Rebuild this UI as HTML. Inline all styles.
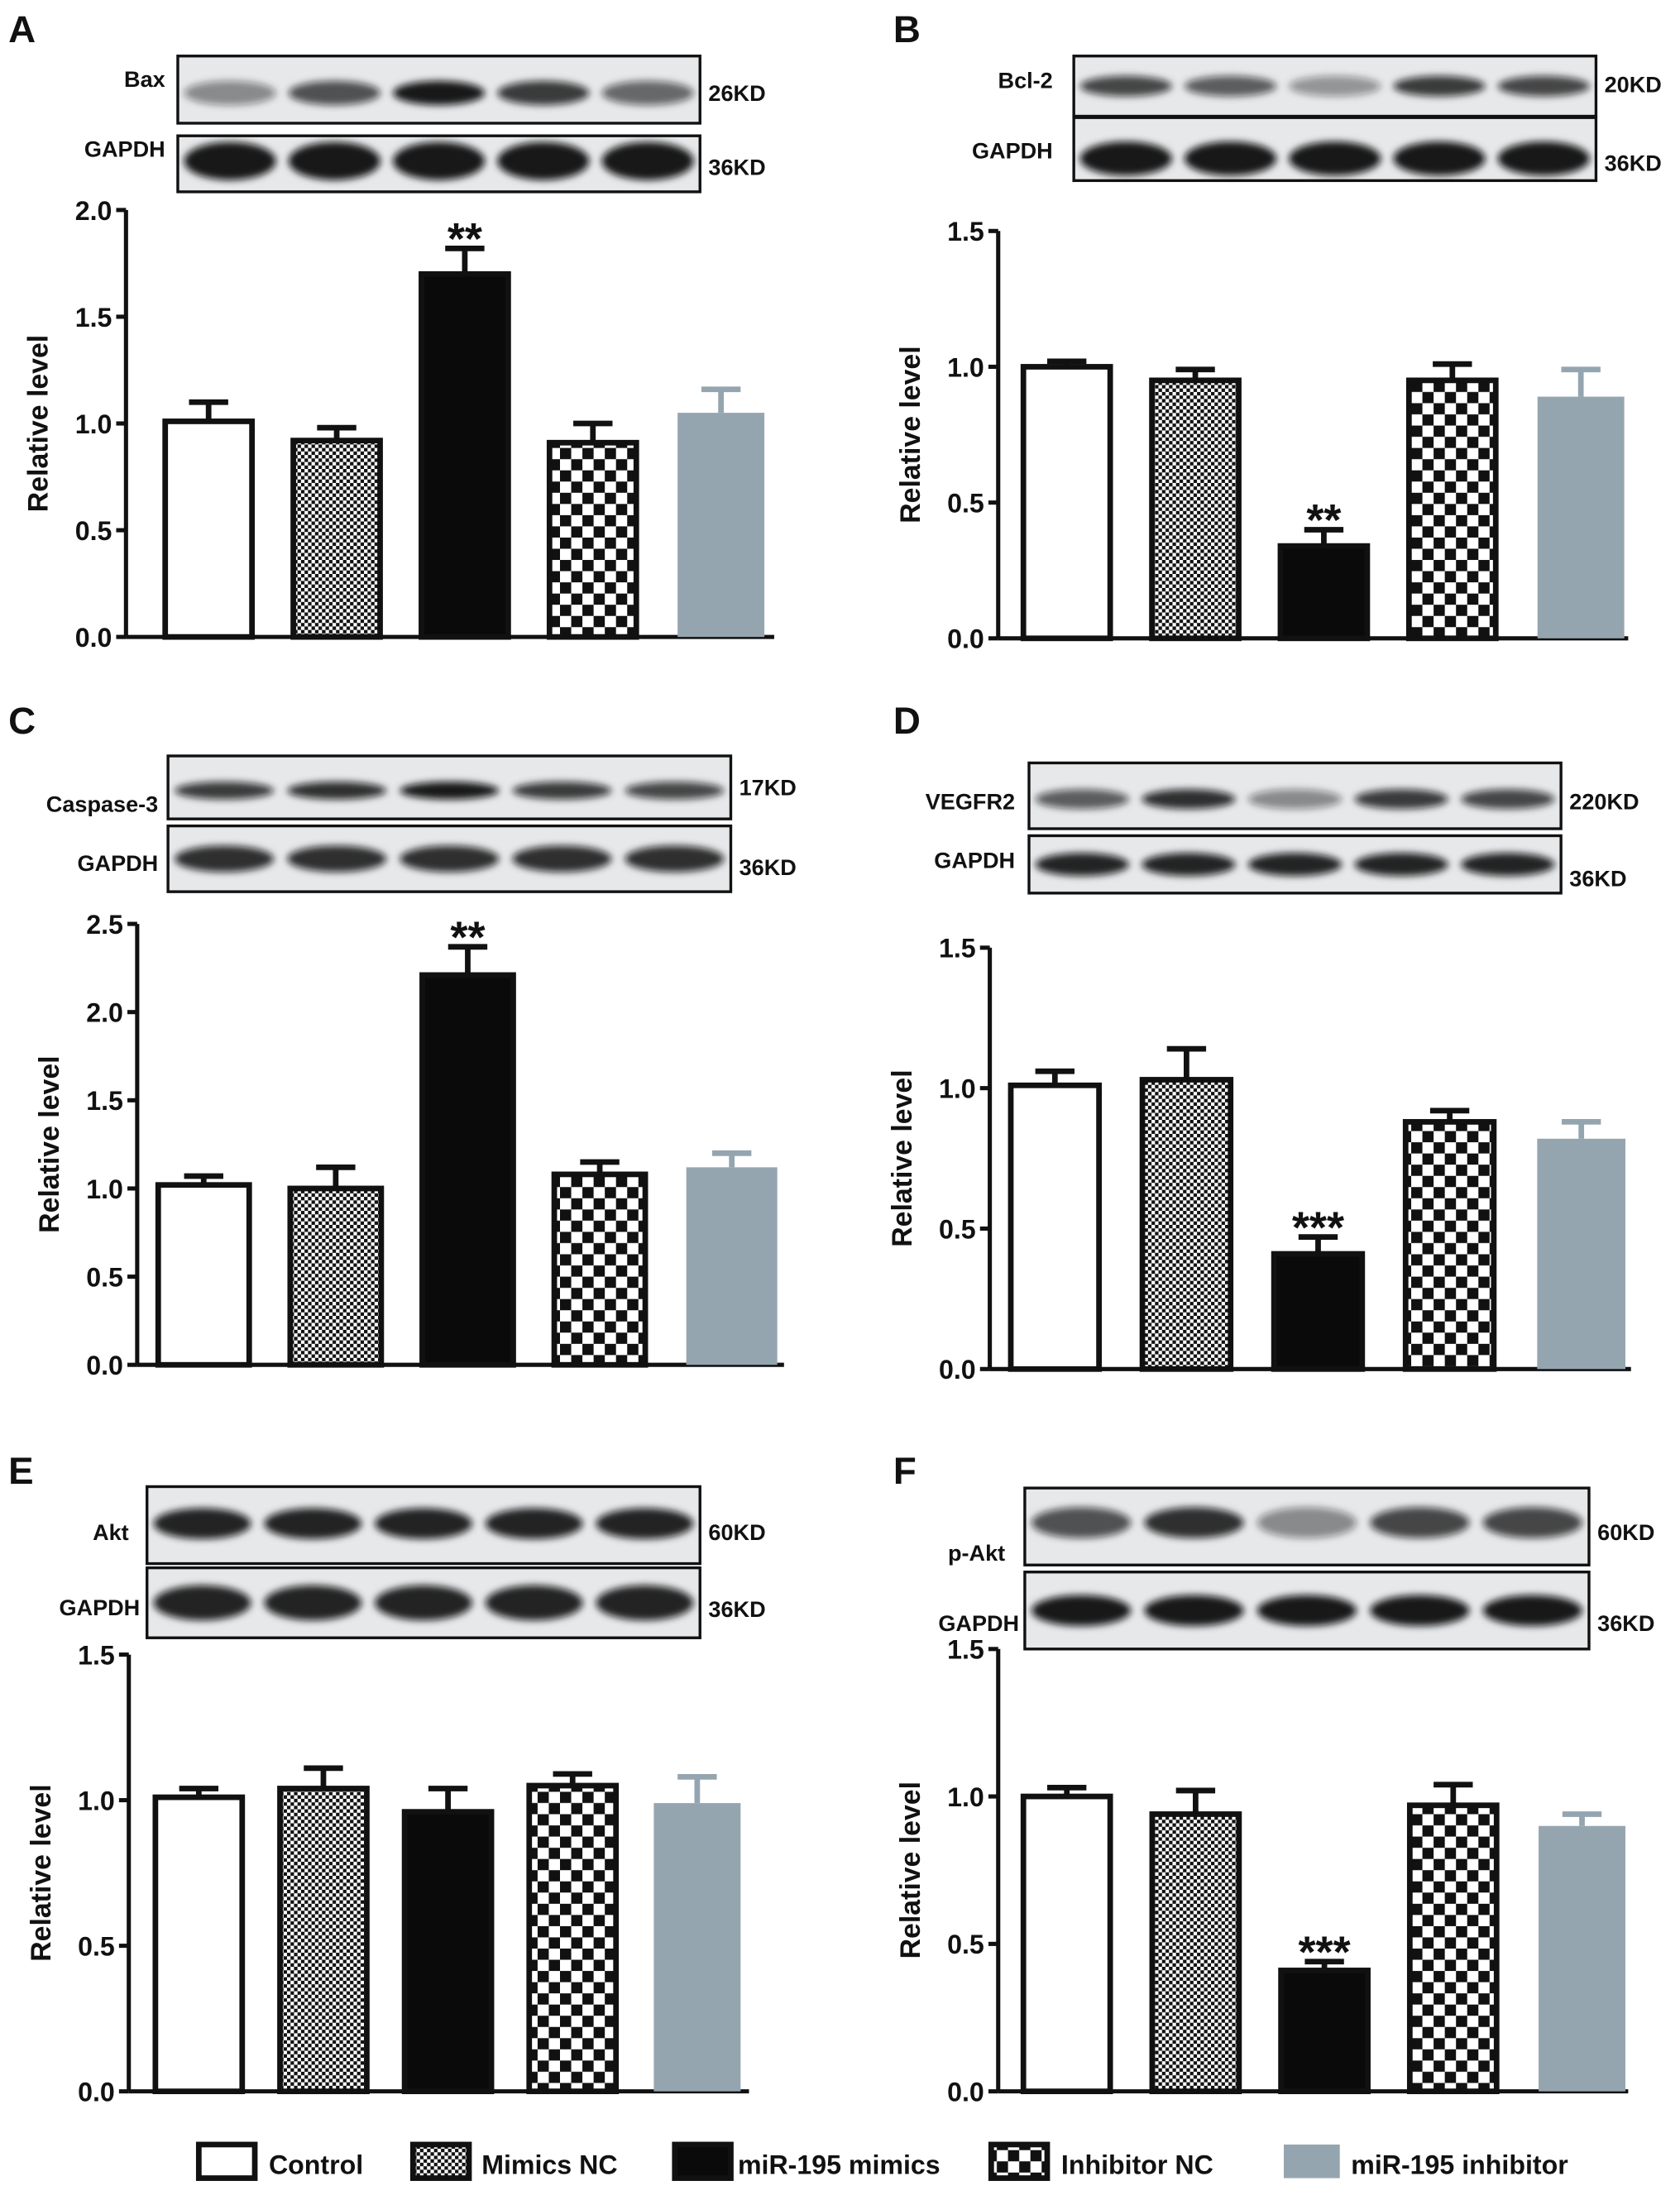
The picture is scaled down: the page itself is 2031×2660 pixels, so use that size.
<!DOCTYPE html>
<html><head><meta charset="utf-8"><style>
html,body{margin:0;padding:0;background:#fff;}
svg{display:block;font-family:"Liberation Sans",sans-serif;font-weight:bold;}
</style></head><body>
<svg id="fig" xmlns="http://www.w3.org/2000/svg" width="2031" height="2660" viewBox="0 0 1200 1571.6">
<defs>
<pattern id="pSmall" width="5" height="5" patternUnits="userSpaceOnUse"><rect width="5" height="5" fill="#fff"/><rect width="2.5" height="2.5" fill="#111"/><rect x="2.5" y="2.5" width="2.5" height="2.5" fill="#111"/></pattern>
<pattern id="pBig" width="16" height="16" patternUnits="userSpaceOnUse"><rect width="16" height="16" fill="#fff"/><rect width="8" height="8" fill="#111"/><rect x="8" y="8" width="8" height="8" fill="#111"/></pattern>
<filter id="blur" x="-20%" y="-50%" width="140%" height="200%"><feGaussianBlur stdDeviation="2.5"/></filter>
</defs>
</svg>
<script>
// ---- data ----
const groups = ["Control","Mimics NC","miR-195 mimics","Inhibitor NC","miR-195 inhibitor"];
const valsA = [1.01,0.92,1.70,0.91,1.05];
const errA  = [0.09,0.06,0.12,0.09,0.11];
const valsB = [1.00,0.95,0.34,0.95,0.89];
const errB  = [0.02,0.04,0.06,0.06,0.10];
const valsC = [1.02,1.00,2.21,1.08,1.12];
const errC  = [0.05,0.12,0.16,0.07,0.08];
const valsD = [1.01,1.03,0.41,0.88,0.82];
const errD  = [0.05,0.11,0.06,0.04,0.06];
const valsE = [1.01,1.04,0.96,1.05,0.99];
const errE  = [0.03,0.07,0.08,0.04,0.09];
const valsF = [1.00,0.94,0.41,0.97,0.90];
const errF  = [0.03,0.08,0.03,0.07,0.04];
const ticks20 = ["0.0","0.5","1.0","1.5","2.0"];
const ticks25 = ["0.0","0.5","1.0","1.5","2.0","2.5"];
const ticks15 = ["0.0","0.5","1.0","1.5"];
const sigA = ["","","**","",""];
const sigB = ["","","**","",""];
const sigC = ["","","**","",""];
const sigD = ["","","***","",""];
const sigE = ["","","","",""];
const sigF = ["","","***","",""];

const NS="http://www.w3.org/2000/svg";
const svg=document.getElementById('fig');
const fills=["#fff","url(#pSmall)","#0a0a0a","url(#pBig)","#95a5b0"];
function mk(tag,attrs,parent){const e=document.createElementNS(NS,tag);for(const k in attrs)e.setAttribute(k,attrs[k]);(parent||svg).appendChild(e);return e;}
function txt(s,x,y,size,parent,anchor){const t=mk('text',{x:x,y:y,'font-size':size,'text-anchor':anchor||'start',fill:'#111'},parent);t.textContent=s;return t;}

function panel(cfg){
  const g=mk('g',{});
  
  
  const lab=txt(cfg.id,cfg.lx,cfg.ly,27,g);
  
  
  cfg.blots.forEach((b,bi)=>{
    const bg=mk('g',{},g);
    
    
    mk('rect',{x:b.x,y:b.y,width:b.w,height:b.h,fill:'#e6e8ea',stroke:'#111','stroke-width':2},bg);
    const lw=b.w/5;
    b.dark.forEach((d,i)=>{
      mk('ellipse',{cx:b.x+lw*(i+0.5),cy:b.y+b.h*b.by,rx:lw*0.44,ry:b.h*b.bh,fill:'#111','fill-opacity':d,filter:'url(#blur)'},bg);
    });
    const l=txt(b.name,b.nx,b.ny,16,g,'end');
    
    
    const k=txt(b.kd,b.x+b.w+6,b.ky,16,g);
    
    
  });
  const yScale=v=>cfg.y0-(v/cfg.ymax)*(cfg.y0-cfg.ytop);
  const ax=mk('g',{},g);
  
  
  mk('line',{x1:cfg.ax,y1:cfg.ytop,x2:cfg.ax,y2:cfg.y0,stroke:'#111','stroke-width':3},ax);
  cfg.ticks.forEach(t=>{
    const y=yScale(parseFloat(t));
    mk('line',{x1:cfg.ax-7,y1:y,x2:cfg.ax,y2:y,stroke:'#111','stroke-width':3},ax);
    const tl=txt(t,cfg.ax-10,y+7,19,ax,'end');
    
    
  });
  const xa=mk('line',{x1:cfg.ax,y1:cfg.y0,x2:cfg.xend,y2:cfg.y0,stroke:'#111','stroke-width':3},g);
  
  
  const yt=txt('Relative level',0,0,20,g,'middle');
  yt.setAttribute('transform','translate('+(cfg.ax-56)+','+((cfg.y0+cfg.ytop)/2)+') rotate(-90)');
  
  
  cfg.vals.forEach((v,i)=>{
    const x=cfg.bx0+i*cfg.step, w=cfg.bw, y=yScale(v), cx=x+w/2;
    const col=i==4?'#95a5b0':'#111';
    const eg=mk('line',{x1:cx,y1:y,x2:cx,y2:yScale(v+cfg.err[i]),stroke:col,'stroke-width':4},g);
    
    
    const cap=mk('line',{x1:cx-14,y1:yScale(v+cfg.err[i]),x2:cx+14,y2:yScale(v+cfg.err[i]),stroke:col,'stroke-width':4},g);
    
    
    const r=mk('rect',{x:x,y:y,width:w,height:cfg.y0-y,fill:fills[i],stroke:i==4?'none':'#111','stroke-width':i==4?0:4},g);
    
    
    if(cfg.sig[i]){
      const s=txt(cfg.sig[i],cx,yScale(v+cfg.err[i])+4,32,g,'middle');
      
      
    }
  });
}

panel({id:'A',lx:6,ly:30,ax:90,ytop:150,y0:455,ymax:2.0,xend:553,ticks:ticks20,bx0:118,bw:62,step:91.5,vals:valsA,err:errA,sig:sigA,
 blots:[{x:127,y:40,w:373,h:48,by:0.55,bh:0.18,dark:[0.45,0.7,0.95,0.8,0.6],name:'Bax',nx:118,ny:62,kd:'26KD',ky:72},
        {x:127,y:97,w:373,h:40,by:0.45,bh:0.34,dark:[0.95,0.95,0.95,0.95,0.95],name:'GAPDH',nx:118,ny:112,kd:'36KD',ky:125}]});
panel({id:'B',lx:638,ly:30,ax:713,ytop:165,y0:456,ymax:1.5,xend:1163,ticks:ticks15,bx0:731,bw:62,step:91.8,vals:valsB,err:errB,sig:sigB,
 blots:[{x:767,y:40,w:373,h:43,by:0.5,bh:0.17,dark:[0.75,0.65,0.4,0.8,0.75],name:'Bcl-2',nx:752,ny:63,kd:'20KD',ky:66},
        {x:767,y:84,w:373,h:45,by:0.65,bh:0.27,dark:[0.95,0.95,0.95,0.95,0.95],name:'GAPDH',nx:752,ny:113,kd:'36KD',ky:122}]});
panel({id:'C',lx:6,ly:524,ax:98,ytop:660,y0:975,ymax:2.5,xend:560,ticks:ticks25,bx0:113,bw:65,step:94.3,vals:valsC,err:errC,sig:sigC,
 blots:[{x:120,y:540,w:402,h:45,by:0.55,bh:0.14,dark:[0.8,0.85,0.95,0.8,0.75],name:'Caspase-3',nx:113,ny:580,kd:'17KD',ky:568},
        {x:120,y:590,w:402,h:47,by:0.5,bh:0.2,dark:[0.85,0.85,0.85,0.85,0.85],name:'GAPDH',nx:113,ny:622,kd:'36KD',ky:625}]});
panel({id:'D',lx:638,ly:524,ax:707,ytop:677,y0:978,ymax:1.5,xend:1165,ticks:ticks15,bx0:722,bw:63,step:94,vals:valsD,err:errD,sig:sigD,
 blots:[{x:735,y:545,w:380,h:47,by:0.55,bh:0.15,dark:[0.65,0.85,0.45,0.8,0.75],name:'VEGFR2',nx:725,ny:578,kd:'220KD',ky:578},
        {x:735,y:597,w:380,h:41,by:0.5,bh:0.2,dark:[0.9,0.9,0.9,0.9,0.9],name:'GAPDH',nx:725,ny:620,kd:'36KD',ky:633}]});
panel({id:'E',lx:6,ly:1060,ax:92,ytop:1182,y0:1494,ymax:1.5,xend:535,ticks:ticks15,bx0:111,bw:62,step:89,vals:valsE,err:errE,sig:sigE,
 blots:[{x:105,y:1062,w:395,h:55,by:0.48,bh:0.2,dark:[0.9,0.9,0.9,0.9,0.9],name:'Akt',nx:92,ny:1100,kd:'60KD',ky:1100},
        {x:105,y:1120,w:395,h:50,by:0.5,bh:0.25,dark:[0.9,0.9,0.9,0.9,0.9],name:'GAPDH',nx:100,ny:1154,kd:'36KD',ky:1155}]});
panel({id:'F',lx:638,ly:1060,ax:713,ytop:1178,y0:1494,ymax:1.5,xend:1163,ticks:ticks15,bx0:731,bw:62,step:92,vals:valsF,err:errF,sig:sigF,
 blots:[{x:732,y:1063,w:403,h:55,by:0.45,bh:0.2,dark:[0.7,0.85,0.45,0.75,0.75],name:'p-Akt',nx:718,ny:1115,kd:'60KD',ky:1100},
        {x:732,y:1123,w:403,h:55,by:0.5,bh:0.2,dark:[0.95,0.95,0.95,0.95,0.95],name:'GAPDH',nx:728,ny:1165,kd:'36KD',ky:1165}]});

const leg=mk('g',{});


const legBoxX=[140,293,480,706,915];
const legTextX=[192,344,527,758,965];
groups.forEach((gname,i)=>{
  const e=mk('g',{},leg);
  
  
  mk('rect',{x:legBoxX[i]+2,y:1532,width:40,height:24,fill:fills[i],stroke:i==4?'none':'#111','stroke-width':4},e);
  const t=txt(gname,legTextX[i],1553,19,e);
  
  
});
</script>
</body></html>
